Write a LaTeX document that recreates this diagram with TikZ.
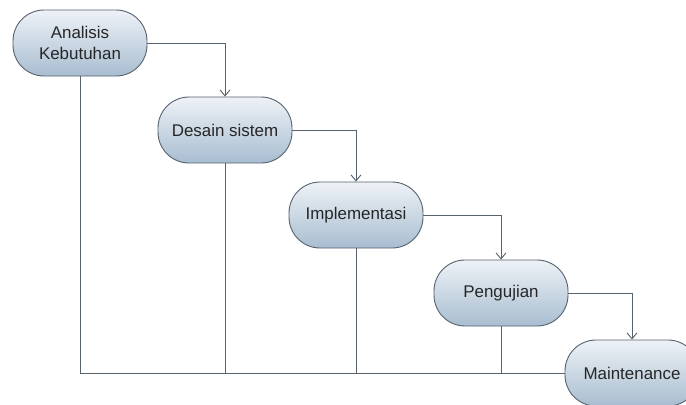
\documentclass[tikz,border=0pt]{standalone}
\usepackage{fontspec}
\setmainfont{Liberation Sans}
\usetikzlibrary{arrows.meta}
\definecolor{stepline}{HTML}{56626D}
\definecolor{steptop}{HTML}{EEF2F7}
\definecolor{stepbot}{HTML}{A8BDD0}
\tikzset{
  phase/.style={draw=stepline, line width=0.9bp, rounded corners=31bp, top color=steptop, bottom color=stepbot,
    minimum width=134bp, minimum height=66bp, align=center, inner sep=0pt,
    font=\fontsize{17}{21}\selectfont, text=black!85},
  flow/.style={draw=stepline, line width=0.9bp, -{Straight Barb[length=6bp,width=10bp]}},
  back/.style={draw=stepline, line width=0.9bp}
}
\begin{document}
\begin{tikzpicture}[x=1bp,y=-1bp]
\useasboundingbox[fill=white] (0,0) rectangle (686,404);
\node[phase] (ana) at (80,43) {Analisis\\Kebutuhan};
\node[phase] (des) at (225,130) {Desain sistem};
\node[phase] (imp) at (356,215) {Implementasi};
\node[phase] (pen) at (501,293) {Pengujian};
\node[phase] (mai) at (632,373) {Maintenance};
\draw[flow] (ana.east) -| (des.north);
\draw[flow] (des.east) -| (imp.north);
\draw[flow] (imp.east) -| (pen.north);
\draw[flow] (pen.east) -| (mai.north);
\draw[back] (ana.south) |- (mai.west);
\draw[back] (des.south) -- (des.south |- mai.west);
\draw[back] (imp.south) -- (imp.south |- mai.west);
\draw[back] (pen.south) -- (pen.south |- mai.west);
\end{tikzpicture}
\end{document}
